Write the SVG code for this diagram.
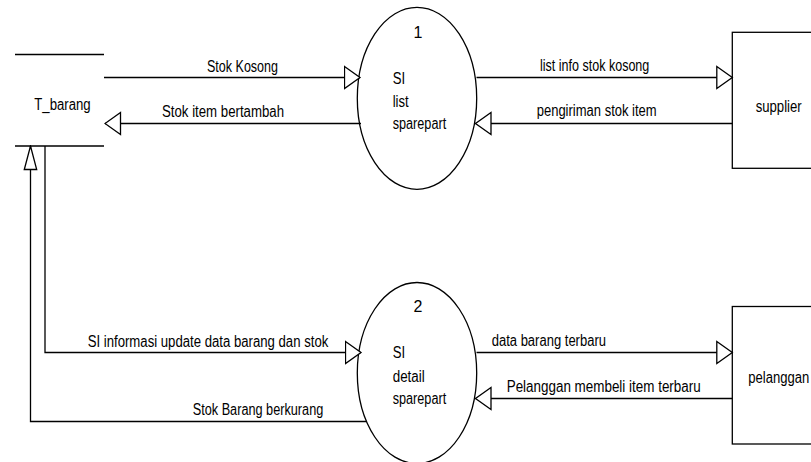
<svg xmlns="http://www.w3.org/2000/svg" width="811" height="462" viewBox="0 0 811 462">
  <style>
    .ln { fill: none; stroke: #000; stroke-width: 1.3; }
    .shape { fill: #fff; stroke: #000; stroke-width: 1.3; }
    text { font-family: "Liberation Sans Narrow", "Liberation Sans", Arial, sans-serif; font-size: 16px; fill: #000; }
  </style>
  <defs>
    <marker id="head" markerUnits="userSpaceOnUse" markerWidth="18" markerHeight="26" refX="15.5" refY="11.5" orient="auto" viewBox="-1 0 18 23">
      <path d="M0,0.5 L15.5,11.5 L0,22.5 Z" fill="#fff" stroke="#000" stroke-width="1.3"/>
    </marker>
    <marker id="head-tall" markerUnits="userSpaceOnUse" markerWidth="26" markerHeight="16" refX="23.5" refY="6.5" orient="auto" viewBox="-1 0 26 13">
      <path d="M0,0.3 L23.5,6.5 L0,12.7 Z" fill="#fff" stroke="#000" stroke-width="1.3"/>
    </marker>
  </defs>

  <!-- data store -->
  <g id="t_barang">
    <line class="ln" x1="15" y1="54.5" x2="104" y2="54.5"/>
    <line class="ln" x1="15" y1="146" x2="104" y2="146"/>
    <text x="34.3" y="110" textLength="56.4" lengthAdjust="spacingAndGlyphs">T_barang</text>
  </g>

  <!-- process 1 -->
  <g id="proc1">
    <ellipse class="shape" cx="417" cy="98.3" rx="59.7" ry="91"/>
    <text x="418" y="38.3" text-anchor="middle">1</text>
    <text x="392.7" y="84.3" textLength="12.4" lengthAdjust="spacingAndGlyphs">SI</text>
    <text x="392.7" y="106.7" textLength="16" lengthAdjust="spacingAndGlyphs">list</text>
    <text x="392.7" y="129" textLength="53.5" lengthAdjust="spacingAndGlyphs">sparepart</text>
  </g>

  <!-- process 2 -->
  <g id="proc2">
    <ellipse class="shape" cx="417" cy="373" rx="59.7" ry="90.5"/>
    <text x="418" y="312.3" text-anchor="middle">2</text>
    <text x="392.7" y="358.3" textLength="12.4" lengthAdjust="spacingAndGlyphs">SI</text>
    <text x="392.7" y="381.6" textLength="32" lengthAdjust="spacingAndGlyphs">detail</text>
    <text x="392.7" y="404.2" textLength="53.5" lengthAdjust="spacingAndGlyphs">sparepart</text>
  </g>

  <!-- external entities -->
  <g id="supplier">
    <rect class="shape" x="732.3" y="32.3" width="100" height="136"/>
    <text x="755.7" y="111.5" textLength="46" lengthAdjust="spacingAndGlyphs">supplier</text>
  </g>
  <g id="pelanggan">
    <rect class="shape" x="732.3" y="306.5" width="100" height="137.5"/>
    <text x="748.3" y="382.7" textLength="61" lengthAdjust="spacingAndGlyphs">pelanggan</text>
  </g>

  <!-- data flows -->
  <g id="flows">
    <path class="ln" d="M104,77.5 L360,77.5" marker-end="url(#head)"/>
    <path class="ln" d="M361,123.5 L105,123.5" marker-end="url(#head)"/>
    <path class="ln" d="M476.5,77.5 L732.3,77.5" marker-end="url(#head)"/>
    <path class="ln" d="M732.3,123.5 L475.5,123.5" marker-end="url(#head)"/>
    <path class="ln" d="M45,146 L45,352.5 L361,352.5" marker-end="url(#head)"/>
    <path class="ln" d="M366.5,421.5 L30.5,421.5 L30.5,146" marker-end="url(#head-tall)"/>
    <path class="ln" d="M476.5,352.5 L732.3,352.5" marker-end="url(#head)"/>
    <path class="ln" d="M732.3,398.5 L475.5,398.5" marker-end="url(#head)"/>

    <text x="207" y="71.5" textLength="71" lengthAdjust="spacingAndGlyphs">Stok Kosong</text>
    <text x="162" y="116.5" textLength="122" lengthAdjust="spacingAndGlyphs">Stok item bertambah</text>
    <text x="540" y="71" textLength="109.3" lengthAdjust="spacingAndGlyphs">list info stok kosong</text>
    <text x="536.7" y="116" textLength="120" lengthAdjust="spacingAndGlyphs">pengiriman stok item</text>
    <text x="87.7" y="346.5" textLength="240.6" lengthAdjust="spacingAndGlyphs">SI informasi update data barang dan stok</text>
    <text x="192.7" y="415" textLength="130.6" lengthAdjust="spacingAndGlyphs">Stok Barang berkurang</text>
    <text x="491.7" y="346" textLength="114.3" lengthAdjust="spacingAndGlyphs">data barang terbaru</text>
    <text x="506.7" y="391.6" textLength="194" lengthAdjust="spacingAndGlyphs">Pelanggan membeli item terbaru</text>
  </g>
</svg>
